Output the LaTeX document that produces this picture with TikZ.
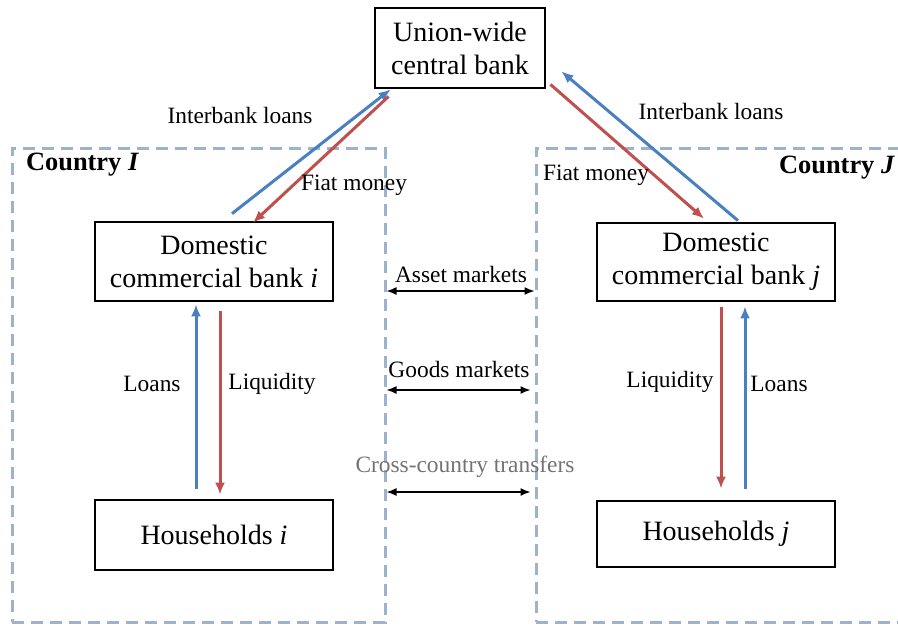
\documentclass[tikz,border=0pt]{standalone}
\usepackage{fontspec}
\setmainfont{Liberation Serif}
\usepackage{tikz}
\usepackage{xcolor}
\usetikzlibrary{calc,arrows.meta}

\definecolor{flowblue}{HTML}{4A7FC1}
\definecolor{flowred}{HTML}{C0504D}
\definecolor{dashgray}{HTML}{9DB2CB}

\begin{document}
\begin{tikzpicture}[x=0.5pt,y=-0.5pt]
            \tikzstyle{every node}=[font=\fontsize{14}{16.5}\selectfont, align=center]
            \tikzstyle{agent}=[draw, line width=1.4pt, inner sep=0pt]
            \tikzstyle{country}=[draw=dashgray, line width=1.5pt, dash pattern=on 6pt off 3.5pt, inner sep=0pt]
            \tikzstyle{lbl}=[font=\fontsize{11.7}{14}\selectfont]
            \tikzstyle{blueflow}=[draw=flowblue, line width=1.5pt, -{Latex[length=6pt,width=5pt]}]
            \tikzstyle{redflow}=[draw=flowred, line width=1.5pt, -{Latex[length=6pt,width=5pt]}]
            \tikzstyle{market}=[line width=0.7pt, {Latex[length=5pt,width=4pt]}-{Latex[length=5pt,width=4pt]}]
            \clip (0,0) rectangle (898,626);
            % Countries
            \node[country, minimum width=186.5pt, minimum height=237pt] (ci) at (198.5,385) {};
            \node[country, minimum width=210pt, minimum height=237pt] (cj) at (746,385) {};
            \node[anchor=west, font=\fontsize{13.2}{16}\selectfont\bfseries] (ti) at (19,165) {Country \textit{I}};
            \node[anchor=east, font=\fontsize{13.2}{16}\selectfont\bfseries] (tj) at (902,168) {Country \textit{J}};
            % Agents
            \node[agent, minimum width=85pt, minimum height=40pt] (cb) at (460,48) {Union-wide\\central bank};
            \node[agent, minimum width=119pt, minimum height=39.5pt] (bi) at (214,261.5) {Domestic\\commercial bank \textit{i}};
            \node[agent, minimum width=119pt, minimum height=39pt] (bj) at (716,262) {Domestic\\commercial bank \textit{j}};
            \node[agent, minimum width=119pt, minimum height=35pt] (hi) at (214,535) {Households \textit{i}};
            \node[agent, minimum width=119pt, minimum height=33pt] (hj) at (716,534) {Households \textit{j}};
            % Central bank flows
            \draw[blueflow] ($(bi.north)+(18,-7)$) -- ($(cb.south west)+(17,0)$);
            \draw[redflow] ($(cb.south west)+(15,7)$) -- ($(bi.north)+(39,2)$);
            \draw[redflow] ($(cb.south east)+(4,-5)$) -- ($(bj.north)+(-12,-3)$);
            \draw[blueflow] ($(bj.north)+(22,-1)$) -- ($(cb.south east)+(15,-18)$);
            \node[lbl] (il) at (240,115) {Interbank loans};
            \node[lbl] (fl) at (354,185) {Fiat money};
            \node[lbl] (ir) at (711,111) {Interbank loans};
            \node[lbl] (fr) at (596,175) {Fiat money};
            % Domestic flows
            \draw[blueflow] ($(hi.north)+(-18,-10)$) -- ($(bi.south)+(-18,2)$);
            \draw[redflow] ($(bi.south)+(6,9)$) -- ($(hi.north)+(6,-4)$);
            \draw[redflow] ($(bj.south)+(5,5)$) -- ($(hj.north)+(5,-11)$);
            \draw[blueflow] ($(hj.north)+(29,-11)$) -- ($(bj.south)+(29,4)$);
            \node[lbl] (lol) at (152,384) {Loans};
            \node[lbl] (lql) at (272,384) {Liquidity};
            \node[lbl] (lqr) at (670,382) {Liquidity};
            \node[lbl] (lor) at (779,384) {Loans};
            % Markets
            \node[lbl] (am) at (461,274) {Asset markets};
            \node[lbl] (gm) at (459,369) {Goods markets};
            \node[lbl, text=black!55] (ct) at (465,467) {Cross-country transfers};
            \draw[market] (ci.east |- 0,291) -- (cj.west |- 0,291);
            \draw[market] (ci.east |- 0,390) -- ($(cj.west |- 0,390)+(-4,0)$);
            \draw[market] (ci.east |- 0,492) -- ($(cj.west |- 0,492)+(-4,0)$);
        \end{tikzpicture}
\end{document}
